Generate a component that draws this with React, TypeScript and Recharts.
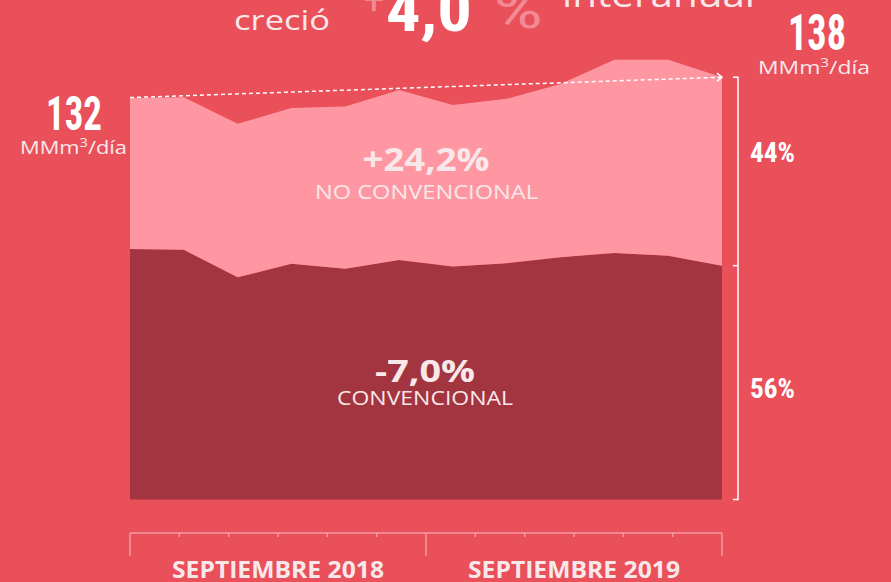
import React from 'react';
import { ComposedChart, Area, Line, XAxis, YAxis, ReferenceLine, ReferenceDot } from 'recharts';

// ---- data (MMm3/día) ----
const fechas = ['01/09/18', '06/09/18', '11/09/18', '16/09/18', '21/09/18', '26/09/18', '01/09/19', '06/09/19', '11/09/19', '16/09/19', '21/09/19', '26/09/19'];
const convencional = [82.3, 82.0, 73.0, 77.4, 75.8, 78.7, 76.5, 77.6, 79.6, 81.0, 80.1, 76.8];
const noConvencional = [49.6, 50.1, 50.4, 51.2, 53.3, 55.8, 53.1, 54.0, 56.9, 63.4, 64.3, 61.9];
const tendencia: (number | null)[] = [132, null, null, null, null, null, null, null, null, null, null, 138.7];

// month scale of the bottom axis (12 intervals, 13 ticks)
const monthTicks = [0, 1, 2, 3, 4, 5, 6, 7, 8, 9, 10, 11, 12];
const monthLabels = ['', '', '', 'SEPTIEMBRE 2018', '', '', '', '', '', 'SEPTIEMBRE 2019', '', '', ''];
const majorTicks = [0, 6, 12];
const monthSpan = [{ m: 0, v: null }, { m: 12, v: null }];

const BG = '#e9505a';
const PINK = '#ff97a3';
const DARK = '#a33540';
const AXIS = '#f59aa3';
const LIGHT = '#f8e8ea';
const FADED = '#f28a94';

const data = fechas.map((f, i) => ({
  fecha: f,
  conv: convencional[i],
  noConv: noConvencional[i],
  trend: tendencia[i],
}));

const lastIdx = fechas.length - 1;
const totalLast = convencional[lastIdx] + noConvencional[lastIdx];

const COND = "'Liberation Sans Narrow', 'Roboto Condensed', 'DejaVu Sans Condensed', Roboto, sans-serif";
const SANS = "'Open Sans', Lato, sans-serif";

const MonthTick = (props: any) => {
  const { x, y, payload } = props;
  const v = payload.value;
  const major = majorTicks.includes(v);
  const label = monthLabels[v];
  return (
    <g>
      <line x1={x} x2={x} y1={y} y2={major ? y + 23 : y + 4} stroke={AXIS} strokeWidth={1.5} />
      {label ? (
        <text x={x} y={y + 45} textAnchor="middle" fill={LIGHT} fontFamily={SANS} fontWeight={700} fontSize={23} textLength={212} lengthAdjust="spacingAndGlyphs">
          {label}
        </text>
      ) : null}
    </g>
  );
};

const ArrowDot = (props: any) => {
  const { cx, cy, index } = props;
  if (index !== lastIdx || cx == null || cy == null) return <g key={`d${index}`} />;
  return <path key={`d${index}`} d={`M${cx - 5},${cy - 4}L${cx},${cy}L${cx - 5},${cy + 4}`} stroke="#fff" strokeWidth={1.5} fill="none" />;
};

const Bracket = (p: any) => {
  const x = p.x1 + 16;
  const yb = Math.max(p.y1, p.y2);
  const yt = Math.min(p.y1, p.y2);
  return <path d={`M${x - 5},${yb}H${x}V${yt}H${x - 5}`} stroke="#fff" strokeWidth={1.5} fill="none" />;
};

const MidTick = (p: any) => (
  <line x1={p.cx + 11} x2={p.cx + 16} y1={p.cy} y2={p.cy} stroke="#fff" strokeWidth={1.5} />
);

const T = (p: any) => {
  const { children, ...rest } = p;
  return <text lengthAdjust="spacingAndGlyphs" {...rest}>{children}</text>;
};

const Unit = ({ x, y, w }: { x: number; y: number; w: number }) => (
  <text x={x} y={y} fontFamily={SANS} fontSize={18} fill={LIGHT} textLength={w} lengthAdjust="spacingAndGlyphs">
    MMm<tspan dy={-7} fontSize={12}>3</tspan><tspan dy={7}>/día</tspan>
  </text>
);

export default function App() {
  return (
    <div style={{ position: 'absolute', left: 0, top: 0, width: 891, height: 582, background: BG, overflow: 'hidden' }}>
      <ComposedChart width={891} height={582} data={data} margin={{ top: 42.8, right: 169, bottom: 0, left: 130 }}>
        <XAxis
          xAxisId="months"
          dataKey="m"
          type="number"
          domain={[0, 12]}
          ticks={monthTicks}
          interval={0}
          height={49}
          tickSize={0}
          tickMargin={0}
          tickLine={false}
          axisLine={{ stroke: AXIS, strokeWidth: 1.5 }}
          tick={<MonthTick />}
          allowDataOverflow
        />
        <XAxis xAxisId="data" dataKey="fecha" hide height={0} />
        <YAxis domain={[-11, 150]} hide allowDataOverflow />
        <Line xAxisId="months" data={monthSpan} dataKey="v" stroke="none" dot={false} activeDot={false} legendType="none" isAnimationActive={false} />
        <Area xAxisId="data" stackId="a" dataKey="conv" type="linear" fill={DARK} fillOpacity={1} stroke="none" isAnimationActive={false} />
        <Area xAxisId="data" stackId="a" dataKey="noConv" type="linear" fill={PINK} fillOpacity={1} stroke="none" isAnimationActive={false} />
        <Line xAxisId="data" dataKey="trend" connectNulls stroke="#fff" strokeWidth={1.5} strokeDasharray="4 3" dot={ArrowDot} activeDot={false} isAnimationActive={false} />
        <ReferenceLine xAxisId="data" segment={[{ x: fechas[lastIdx], y: 0 }, { x: fechas[lastIdx], y: totalLast }]} shape={Bracket} ifOverflow="visible" />
        <ReferenceDot xAxisId="data" x={fechas[lastIdx]} y={convencional[lastIdx]} shape={MidTick} ifOverflow="visible" />
      </ComposedChart>
      <svg width={891} height={582} style={{ position: 'absolute', left: 0, top: 0, pointerEvents: 'none' }}>
        <T x={234} y={30} fontFamily={SANS} fontSize={27} fill={LIGHT} textLength={96}>creció</T>
        <T x={363} y={14} fontFamily={COND} fontSize={44} fill={FADED}>+</T>
        <T x={386} y={31} fontFamily={COND} fontWeight={700} fontSize={62} fill="#fff" textLength={86}>4,0</T>
        <T x={493} y={28} fontFamily={COND} fontSize={54} fill={FADED} textLength={50}>%</T>
        <T x={562} y={7} fontFamily={SANS} fontSize={34} fill={LIGHT} textLength={193}>interanual</T>

        <T x={788} y={50} fontFamily={COND} fontWeight={700} fontSize={50} fill="#fff" textLength={58}>138</T>
        <Unit x={758} y={74} w={112} />
        <T x={46} y={130} fontFamily={COND} fontWeight={700} fontSize={48} fill="#fff" textLength={56}>132</T>
        <Unit x={20} y={154} w={107} />

        <T x={426} y={171} textAnchor="middle" fontFamily={SANS} fontWeight={700} fontSize={33} fill={LIGHT} textLength={127}>+24,2%</T>
        <T x={426.5} y={199} textAnchor="middle" fontFamily={SANS} fontSize={20} fill={LIGHT} textLength={223}>NO CONVENCIONAL</T>
        <T x={425} y={381.5} textAnchor="middle" fontFamily={SANS} fontWeight={700} fontSize={31} fill={LIGHT} textLength={100}>-7,0%</T>
        <T x={425} y={405} textAnchor="middle" fontFamily={SANS} fontSize={20} fill={LIGHT} textLength={176}>CONVENCIONAL</T>

        <T x={750} y={162} fontFamily={COND} fontWeight={700} fontSize={28} fill="#fff" textLength={45}>44%</T>
        <T x={750} y={398} fontFamily={COND} fontWeight={700} fontSize={28} fill="#fff" textLength={45}>56%</T>
      </svg>
    </div>
  );
}
